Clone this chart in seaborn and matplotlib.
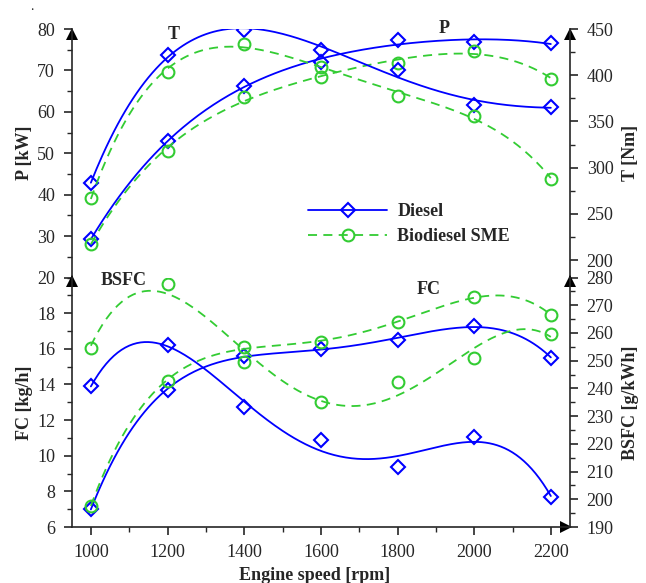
import numpy as np
import pandas as pd
import matplotlib
matplotlib.use("Agg")
import matplotlib.pyplot as plt
import matplotlib.transforms as mtransforms
from matplotlib.lines import Line2D
from matplotlib.ticker import MultipleLocator
import seaborn as sns

# Valores
rpm = [1000, 1200, 1400, 1600, 1800, 2000, 2200]

p_diesel = [29.2, 53.0, 66.2, 72.0, 77.3, 76.9, 76.5]      # kW
p_sme = [28.2, 50.6, 63.6, 68.4, 71.9, 74.6, 68.0]
t_diesel = [283, 422, 449, 427, 406, 368, 366]             # Nm
t_sme = [267, 404, 434, 409, 378, 356, 288]

fc_diesel = [7.0, 13.7, 15.6, 16.0, 16.5, 17.3, 15.5]      # kg/h
fc_sme = [7.2, 14.2, 16.1, 16.4, 17.5, 18.9, 17.9]
bsfc_diesel = [240.7, 255.6, 233.3, 221.3, 211.8, 222.6, 200.8]  # g/kWh
bsfc_sme = [254.5, 277.6, 249.5, 235.1, 242.3, 250.8, 259.5]

BLUE = "#0000ff"
GREEN = "#33cc33"
DASHED = (0, (5, 3.5))
FS = 13

sns.set_style("ticks")
plt.rcParams["font.family"] = ["Liberation Serif", "DejaVu Serif"]
plt.rcParams["font.size"] = FS
plt.rcParams["axes.linewidth"] = 1.2

fig = plt.figure(figsize=(6.46, 5.83), dpi=100)
L, W = 71.7 / 646, 498.3 / 646
ax_top = fig.add_axes([L, 1 - 277.5 / 583, W, 248.5 / 583])
ax_bot = fig.add_axes([L, 1 - 527 / 583, W, 249.5 / 583])
ax_t = ax_top.twinx()
ax_b = ax_bot.twinx()


def draw_series(ax, values, color, marker, ms, ls):
    # curva suavizada (ajuste polinomial) + marcadores nos pontos medidos
    x = np.array(rpm) / 1000.0
    coef = np.polyfit(x, values, 4)
    xs = np.linspace(rpm[0], rpm[-1], 241)
    curve = pd.DataFrame({"rpm": xs, "val": np.polyval(coef, xs / 1000.0)})
    sns.lineplot(data=curve, x="rpm", y="val", ax=ax, color=color,
                 lw=1.3, linestyle=ls)
    ax.plot(rpm, values, linestyle="none", marker=marker, ms=ms,
            mfc="none", mec=color, mew=1.5)


draw_series(ax_top, p_diesel, BLUE, "D", 7, "-")
draw_series(ax_top, p_sme, GREEN, "o", 8.5, DASHED)
draw_series(ax_t, t_diesel, BLUE, "D", 7, "-")
draw_series(ax_t, t_sme, GREEN, "o", 8.5, DASHED)
draw_series(ax_bot, fc_diesel, BLUE, "D", 7, "-")
draw_series(ax_bot, fc_sme, GREEN, "o", 8.5, DASHED)
draw_series(ax_b, bsfc_diesel, BLUE, "D", 7, "-")
draw_series(ax_b, bsfc_sme, GREEN, "o", 8.5, DASHED)

# Limites e ticks
for ax in (ax_top, ax_t, ax_bot, ax_b):
    ax.set_xlim(950, 2250)
    ax.tick_params(which="major", length=6, width=1.2, pad=6, labelsize=FS)
    ax.tick_params(which="minor", length=3.5, width=1.0)

ax_top.set_ylim(20, 80)
ax_top.set_yticks(range(30, 81, 10))
ax_top.yaxis.set_minor_locator(MultipleLocator(5))
ax_t.set_ylim(181.3, 450)
ax_t.set_yticks(range(200, 451, 50))
ax_t.yaxis.set_minor_locator(MultipleLocator(25))
ax_bot.set_ylim(6, 20)
ax_bot.set_yticks(range(6, 21, 2))
ax_bot.yaxis.set_minor_locator(MultipleLocator(1))
ax_b.set_ylim(190, 280)
ax_b.set_yticks(range(190, 281, 10))
ax_b.yaxis.set_minor_locator(MultipleLocator(5))

ax_bot.set_xticks(range(1000, 2201, 200))
ax_bot.xaxis.set_minor_locator(MultipleLocator(100))
for ax in (ax_top, ax_t):
    ax.tick_params(axis="x", which="both", bottom=False, labelbottom=False)
ax_b.tick_params(axis="x", which="both", bottom=False, labelbottom=False)

# Eixos: apenas as linhas necessárias
for ax in (ax_top, ax_t, ax_bot, ax_b):
    ax.spines["top"].set_visible(False)
ax_top.spines["bottom"].set_visible(False)
ax_top.spines["right"].set_visible(False)
ax_t.spines["bottom"].set_visible(False)
ax_t.spines["left"].set_visible(False)
ax_bot.spines["right"].set_visible(False)
ax_b.spines["bottom"].set_visible(False)
ax_b.spines["left"].set_visible(False)


def arrow(ax, x, y, marker, dx, dy):
    off = mtransforms.ScaledTranslation(dx / 72, dy / 72, fig.dpi_scale_trans)
    ax.plot([x], [y], marker=marker, color="k", ms=8, mew=0,
            transform=ax.transAxes + off, clip_on=False)


arrow(ax_top, 0, 1, "^", 0, -3.5)
arrow(ax_t, 1, 1, "^", 0, -3.5)
arrow(ax_bot, 0, 1, "^", 0, -2.5)
arrow(ax_b, 1, 1, "^", 0, -2.5)
arrow(ax_bot, 1, 0, ">", -3, 0)

# Rótulos
ax_top.set_xlabel("")
ax_t.set_xlabel("")
ax_b.set_xlabel("")
ax_top.set_ylabel("P [kW]", weight="bold", size=FS)
ax_t.set_ylabel("T [Nm]", weight="bold", size=FS)
ax_bot.set_ylabel("FC [kg/h]", weight="bold", size=FS)
ax_b.set_ylabel("BSFC [g/kWh]", weight="bold", size=FS)
ax_bot.set_xlabel("Engine speed [rpm]", weight="bold", size=FS)
ax_top.yaxis.set_label_coords(-0.0777, 0.5)
ax_bot.yaxis.set_label_coords(-0.0777, 0.5)
ax_t.yaxis.set_label_coords(1.1037, 0.5)
ax_b.yaxis.set_label_coords(1.1037, 0.5)
ax_bot.xaxis.set_label_coords(0.488, -0.16)

ax_top.text(1217, 78.7, "T", ha="center", va="center", weight="bold", size=FS)
ax_top.text(1921, 80.05, "P", ha="center", va="center", weight="bold", size=FS)
ax_bot.text(1085, 19.85, "BSFC", ha="center", va="center", weight="bold", size=FS)
ax_bot.text(1880, 19.3, "FC", ha="center", va="center", weight="bold", size=FS)

fig.text(31.7 / 646, 1 - 10.5 / 583, ".", ha="center", va="baseline", size=10)

handles = [
    Line2D([], [], color=BLUE, lw=1.3, marker="D", ms=7, mfc="none", mew=1.5),
    Line2D([], [], color=GREEN, lw=1.3, ls=DASHED, marker="o", ms=8.5,
           mfc="none", mew=1.5),
]
fig.legend(handles, ["Diesel", "Biodiesel SME"], loc="center left",
           bbox_to_anchor=(308 / 646, 1 - 224 / 583), frameon=False,
           handlelength=4.4, handletextpad=0.55, labelspacing=0.45,
           borderpad=0, borderaxespad=0, prop=dict(weight="bold", size=FS))

fig.savefig("out.png", dpi=100)
plt.close(fig)
